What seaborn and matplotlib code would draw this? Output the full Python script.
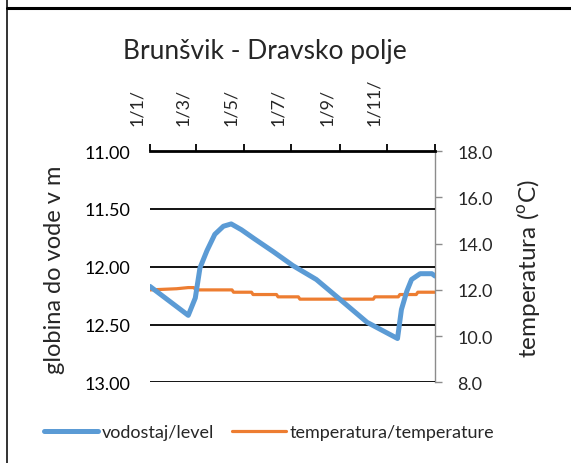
import pandas as pd
import matplotlib
matplotlib.use("Agg")
import matplotlib.pyplot as plt
import matplotlib.dates as mdates
import matplotlib.transforms as mtransforms
from matplotlib.lines import Line2D
from matplotlib.ticker import FixedLocator, FormatStrFormatter, MultipleLocator
import seaborn as sns

# depth to groundwater (m)
level_dates = ["2019-01-01", "2019-02-19", "2019-02-28", "2019-03-06", "2019-03-15",
               "2019-03-25", "2019-04-05", "2019-04-15", "2019-04-28", "2019-05-15",
               "2019-06-08", "2019-07-03", "2019-08-02", "2019-09-01", "2019-10-06",
               "2019-11-14", "2019-11-19", "2019-11-26", "2019-12-02", "2019-12-13",
               "2019-12-28", "2020-01-01"]
level_values = [12.17, 12.42, 12.27, 12.01, 11.86,
                11.72, 11.65, 11.63, 11.68, 11.76,
                11.87, 11.99, 12.11, 12.28, 12.48,
                12.62, 12.37, 12.21, 12.11, 12.06,
                12.06, 12.08]

# water temperature (degC)
temp_dates = ["2019-01-01", "2019-02-04", "2019-02-19", "2019-02-26", "2019-03-01",
              "2019-04-16", "2019-04-18", "2019-05-11", "2019-05-13", "2019-06-12",
              "2019-06-14", "2019-07-10", "2019-07-12", "2019-10-14", "2019-10-16",
              "2019-11-15", "2019-11-17", "2019-12-08", "2019-12-10", "2020-01-01"]
temp_values = [12.0, 12.05, 12.1, 12.1, 12.0,
               12.0, 11.9, 11.9, 11.8, 11.8,
               11.7, 11.7, 11.6, 11.6, 11.7,
               11.7, 11.8, 11.8, 11.9, 11.9]

tick_months = ["2019-01-01", "2019-03-01", "2019-05-01", "2019-07-01", "2019-09-01", "2019-11-01"]

level = pd.DataFrame({"date": pd.to_datetime(level_dates), "level": level_values})
temp = pd.DataFrame({"date": pd.to_datetime(temp_dates), "temp": temp_values})

sns.set_style("white")
plt.rcParams["font.family"] = ["Lato", "DejaVu Sans"]
plt.rcParams["mathtext.fontset"] = "custom"
plt.rcParams["mathtext.rm"] = "Lato"

fig = plt.figure(figsize=(5.71, 4.64), dpi=100)
ax = fig.add_axes([0.2627, 0.1735, 0.4991, 0.4989])
ax2 = ax.twinx()

sns.lineplot(data=temp, x="date", y="temp", ax=ax2, color="#ED7D31", linewidth=2.3,
             label="temperatura/temperature", legend=False)
sns.lineplot(data=level, x="date", y="level", ax=ax, color="#5B9BD5", linewidth=3.6,
             label="vodostaj/level", legend=False, solid_capstyle="round")

ax.set_zorder(ax2.get_zorder() + 1)
ax.patch.set_visible(False)

# left axis: depth, inverted
ax.set_ylim(13.0, 11.0)
ax.yaxis.set_major_locator(MultipleLocator(0.5))
ax.yaxis.set_major_formatter(FormatStrFormatter("%.2f"))
ax.yaxis.grid(True, color="black", linewidth=1.3)
ax.xaxis.grid(False)
ax.set_xlim(pd.Timestamp("2019-01-01"), pd.Timestamp("2020-01-01"))
ax.set_xlabel("")
ax.set_ylabel("")
ax.tick_params(axis="y", length=0, pad=14, labelsize=13, colors="black")

# dates on top
ax.xaxis.tick_top()
ax.xaxis.set_major_locator(FixedLocator(mdates.date2num(pd.to_datetime(tick_months))))
ax.xaxis.set_minor_locator(FixedLocator([mdates.date2num(pd.Timestamp("2020-01-01"))]))
ax.xaxis.set_major_formatter(
    plt.FuncFormatter(lambda v, p: "%d/%d/" % (mdates.num2date(v).day, mdates.num2date(v).month)))
ax.tick_params(axis="x", which="both", direction="out", length=5, width=1.3, color="black",
               top=True, bottom=False)
ax.tick_params(axis="x", which="major", labelsize=13, pad=14, labelrotation=90)
shift = mtransforms.ScaledTranslation(-13 / 100, 0, fig.dpi_scale_trans)
for lbl in ax.get_xticklabels():
    lbl.set_transform(lbl.get_transform() + shift)

for s in ["left", "bottom", "right"]:
    ax.spines[s].set_visible(False)
ax.spines["top"].set_color("black")
ax.spines["top"].set_linewidth(2)

# right axis: temperature
ax2.set_ylim(8.0, 18.0)
ax2.yaxis.set_major_locator(MultipleLocator(2.0))
ax2.yaxis.set_major_formatter(FormatStrFormatter("%.1f"))
ax2.set_ylabel("")
ax2.tick_params(axis="y", direction="out", length=5, width=1, color="#8C8C8C",
                pad=11, labelsize=13, right=True)
for s in ["left", "bottom", "top"]:
    ax2.spines[s].set_visible(False)
ax2.spines["right"].set_color("#8C8C8C")
ax2.spines["right"].set_linewidth(1)
ax2.grid(False)

fig.text(0.464, 0.888, "Brunšvik - Dravsko polje", ha="center", va="center", fontsize=19)
fig.text(0.096, 0.418, "globina do vode v m", rotation=90, ha="center", va="center", fontsize=17)
fig.text(0.925, 0.422, r"temperatura ($^{\mathrm{o}}$C)", rotation=90, ha="center", va="center",
         fontsize=17.5)

handles = ax.get_lines()[:1] + ax2.get_lines()[:1]
fig.legend(handles, ["vodostaj/level", "temperatura/temperature"], loc="center",
           bbox_to_anchor=(269 / 571, 1 - 433 / 464), ncol=2, frameon=False, fontsize=13,
           handlelength=3.0, handletextpad=0.2, columnspacing=1.0)

# outer frame pieces visible in the picture
fig.add_artist(Line2D([7 / 571, 7 / 571], [0, 1], color="#333333", linewidth=1.4))
fig.add_artist(Line2D([7 / 571, 1], [1 - 9 / 464, 1 - 9 / 464], color="black", linewidth=2.2))

fig.savefig("out.png", dpi=100)
